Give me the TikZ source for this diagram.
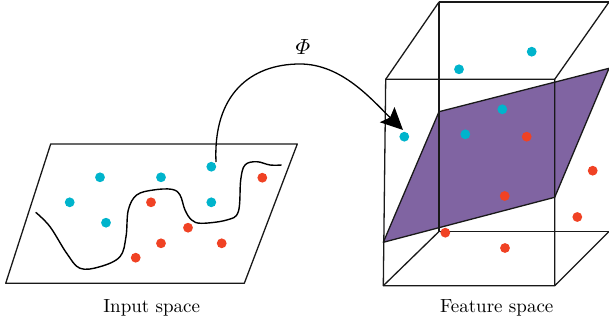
\documentclass[tikz,border=0pt]{standalone}
\usepackage{amsmath,amssymb}
\usepackage{xcolor}
\usepackage{tikz}
\usetikzlibrary{arrows.meta,positioning,calc}
\definecolor{ptcyan}{RGB}{0,180,204}
\definecolor{ptred}{RGB}{240,66,36}
\definecolor{planepurple}{RGB}{128,100,162}

\begin{document}
\begin{tikzpicture}[
  x=0.5pt, y=-0.5pt, line join=round,
  edge/.style={line width=0.65pt, black!90},
  wave/.style={line width=0.7pt, black},
  cdot/.style={fill=ptcyan},
  rdot/.style={fill=ptred},
  plane/.style={fill=planepurple, draw=black!90, line width=0.65pt},
  spacelab/.style={font=\fontsize{9.5}{11}\selectfont, inner sep=0pt},
  map/.style={-{Stealth[length=11pt, width=10.5pt, inset=2pt]}, line width=0.65pt},
]
\useasboundingbox (0,0) rectangle (609,326);
% input space
\draw[edge] (50.7,144) -- (297.3,144) -- (244.3,283.3) -- (5.7,283.3) -- cycle;
\draw[wave] plot[smooth, tension=0.6] coordinates {(35.7,212.3) (50,226.7) (66.7,253.3) (80,268.3)
  (100,266.7) (120,256.7) (126,236.7) (128.3,210) (136.7,195) (153.3,190) (171.7,189.3) (180,195)
  (185,210) (191.7,220) (201.7,223.3) (226.7,220) (238.3,211.7) (240.7,180) (245,165) (256.7,161.7)
  (270,165) (281.7,165)};
\foreach \xx/\yy in {100/177.3, 161/177.3, 211.3/166.7, 69.7/202.3, 211.3/202.3, 106/222.7}
  \fill[cdot] (\xx,\yy) circle[radius=2.45pt];
\foreach \xx/\yy in {262.3/177.7, 151/202.3, 188/227.7, 161/243.3, 221.7/243.3, 135.7/257.7}
  \fill[rdot] (\xx,\yy) circle[radius=2.45pt];
\node[spacelab] (inlab) at (151.7,308) {Input space};
% feature space
\fill[plane] (439,111.7) -- (609,68.3) -- (554.7,197.3) -- (383.3,242.3) -- cycle;
\draw[edge] (385.7,79.3) -- (554.7,79.3) -- (554.7,285.7) -- (383.3,285.7) -- cycle;
\draw[edge] (439,2) -- (609,2);
\draw[edge] (439,2) -- (439,231.5) -- (609,231.5);
\draw[edge] (385.7,79.3) -- (439,2);
\draw[edge] (554.7,79.3) -- (609,2);
\draw[edge] (383.3,285.7) -- (439,231.5);
\draw[edge] (554.7,285.7) -- (609,231.5);
\foreach \xx/\yy in {531.7/51.7, 459/69.3, 502.3/109.3, 465.3/134.3, 404.3/136.7}
  \fill[cdot] (\xx,\yy) circle[radius=2.45pt];
\foreach \xx/\yy in {526.7/136.7, 592.7/170.7, 504.7/196, 577.3/217, 445.3/232.7, 505/248}
  \fill[rdot] (\xx,\yy) circle[radius=2.45pt];
\node[spacelab] (featlab) at (496.7,308) {Feature space};
% mapping
\coordinate (phistart) at (216,162);
\coordinate (phiend) at (403,130);
\draw[map] (phistart) .. controls (213,95) and (250,64) .. (300,64)
  .. controls (342,64) and (372,100) .. (phiend);
\node[spacelab, font=\fontsize{11}{12}\selectfont] (philab) at (303,47) {$\varPhi$};
\end{tikzpicture}
\end{document}
